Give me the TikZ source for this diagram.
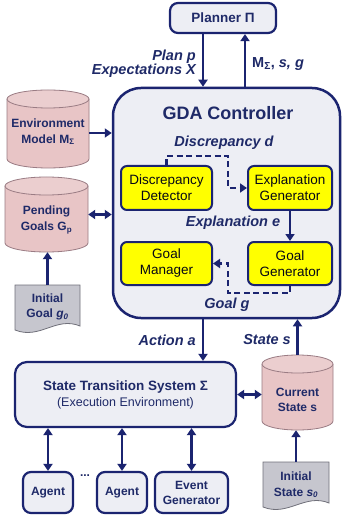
\documentclass[tikz,border=0pt]{standalone}
\usepackage{fontspec}
\setmainfont{Liberation Sans}
\usetikzlibrary{arrows.meta}
\definecolor{navy}{HTML}{1B2470}
\definecolor{txt}{HTML}{1F2A68}
\definecolor{boxfill}{HTML}{EDEEF4}
\definecolor{yel}{HTML}{FFFF00}
\definecolor{cylfill}{HTML}{E8C5C6}
\definecolor{cyldraw}{HTML}{9A7C84}
\definecolor{docfill}{HTML}{C6C6CE}
\definecolor{docdraw}{HTML}{70707A}
\tikzset{
 box/.style={draw=navy, line width=2.2pt, fill=boxfill, rounded corners=8pt, inner sep=0pt, align=center, text=txt},
 ybox/.style={draw=navy, line width=2pt, fill=yel, rounded corners=6pt, inner sep=0pt, align=center, text=black!80!navy, font=\fontsize{13.5}{16}\selectfont},
 lbl/.style={text=txt, font=\fontsize{14.5}{14.5}\selectfont\bfseries\itshape, inner sep=0pt},
 arr/.style={draw=navy, line width=2.6pt, -{Triangle[width=9pt,length=7pt]}},
 darr/.style={draw=navy, line width=2.6pt, {Triangle[width=9pt,length=7pt]}-{Triangle[width=9pt,length=7pt]}},
 dasharr/.style={arr, dash pattern=on 6pt off 3.5pt},
 area/.style={inner sep=0pt},
 cyl/.style={fill=cylfill, draw=cyldraw, line width=0.8pt},
 doc/.style={fill=docfill, draw=docdraw, line width=0.8pt},
 ctext/.style={text=txt, font=\fontsize{12}{15.5}\selectfont\bfseries, align=center, inner sep=0pt},
}
\begin{document}
\begin{tikzpicture}[x=1pt,y=-1pt]
\useasboundingbox[fill=white] (0,0) rectangle (342,518);

% GDA controller
\node[box, rounded corners=28pt, line width=2.5pt, minimum width=227pt, minimum height=230pt] (gda) at (226.5,203) {};
\node[text=txt, font=\fontsize{18}{20}\selectfont\bfseries, inner sep=0pt] (title) at (228,113) {GDA Controller};

% Planner
\node[box, minimum width=106pt, minimum height=30pt, font=\fontsize{13.5}{15}\selectfont\bfseries] (planner) at (223,18) {Planner Π};

% inner components
\node[ybox, minimum width=91pt, minimum height=44pt] (det) at (166.5,188) {Discrepancy\\Detector};
\node[ybox, minimum width=84pt, minimum height=44pt] (expl) at (290,188) {Explanation\\Generator};
\node[ybox, minimum width=91pt, minimum height=43pt] (mgr) at (166.5,263.5) {Goal\\Manager};
\node[ybox, minimum width=84pt, minimum height=43pt] (gen) at (290,263.5) {Goal\\Generator};

\node[lbl] (dlbl) at (224,143) {Discrepancy d};
\node[lbl] (elbl) at (233,223) {Explanation e};
\node[lbl] (glbl) at (227,305) {Goal g};

\draw[dasharr] (det.north) |- (228,156) |- (expl.west);
\draw[arr] (expl.south) -- (gen.north);
\draw[dasharr] (gen.south) |- (228,293) |- (mgr.east);

% planner arrows
\draw[arr] ([xshift=-20pt]planner.south) -- ([xshift=-20pt]planner.south |- gda.north);
\draw[arr] ([xshift=22pt]planner.south |- gda.north) -- ([xshift=22pt]planner.south);
\node[lbl, anchor=east, align=right] (planlbl) at (196,64) {Plan p\\Expectations X};
\node[lbl, anchor=west] (mlbl) at (252,64) {\upshape M\textsubscript{Σ}, \itshape s, g};

% Environment model cylinder
\fill[cylfill] (7,99) -- (7,159) arc[start angle=180, end angle=360, x radius=41pt, y radius=9pt] -- (89,99) arc[start angle=0, end angle=180, x radius=41pt, y radius=9pt] -- cycle;
\draw[cyl] (7,99) -- (7,159) arc[start angle=180, end angle=360, x radius=41pt, y radius=9pt] -- (89,99);
\draw[cyl, fill=cylfill!85!white] (48,99) ellipse [x radius=41pt, y radius=9pt];
\node[area, minimum width=82pt, minimum height=78pt] (env) at (48,129) {};
\node[ctext] (envt) at (48,132) {Environment\\Model M\textsubscript{Σ}};

% Pending goals cylinder
\draw[cyl] (5,186) -- (5,243) arc[start angle=180, end angle=360, x radius=41.5pt, y radius=9pt] -- (88,186);
\draw[cyl, fill=cylfill!85!white] (46.5,186) ellipse [x radius=41.5pt, y radius=9pt];
\node[area, minimum width=83pt, minimum height=75pt] (pend) at (46.5,214.5) {};
\node[ctext] (pendt) at (46.5,220) {Pending\\Goals G\textsubscript{p}};

% Current state cylinder
\draw[cyl] (262,364) -- (262,421) arc[start angle=180, end angle=360, x radius=35.5pt, y radius=9pt] -- (333,364);
\draw[cyl, fill=cylfill!85!white] (297.5,364) ellipse [x radius=35.5pt, y radius=9pt];
\node[area, minimum width=71pt, minimum height=75pt] (cur) at (297.5,392.5) {};
\node[ctext] (curt) at (297.5,400) {Current\\State s};

% documents
\draw[doc] (15,285) -- (80,285) -- (80,326) .. controls (56,316) and (40,340) .. (15,330) -- cycle;
\node[area, minimum width=65pt, minimum height=47pt] (ig) at (47.5,308.5) {};
\node[ctext] (igt) at (47.5,307) {Initial\\Goal {\itshape g\textsubscript{0}}};

\draw[doc] (263,462) -- (329,462) -- (329,503) .. controls (305,493) and (288,517) .. (263,507) -- cycle;
\node[area, minimum width=66pt, minimum height=46pt] (is) at (296,485) {};
\node[ctext] (ist) at (296,485) {Initial\\State {\itshape s\textsubscript{0}}};

% left arrows
\draw[arr] ([yshift=-4pt]env.east) -- ([yshift=-4pt]env.east -| gda.west);
\draw[darr] (pend.east) -- (pend.east -| gda.west);
\draw[arr] (ig.north) -- (ig.north |- pend.south);

% state transition system
\node[box, rounded corners=12pt, minimum width=221pt, minimum height=65pt, font=\fontsize{13}{16}\selectfont] (st) at (125.5,394.5) {{\fontsize{13.5}{16}\selectfont\bfseries State Transition System Σ}\\{\fontsize{12.5}{16}\selectfont (Execution Environment)}};

\draw[arr] ([xshift=-23.5pt]gda.south) -- ([xshift=-23.5pt]gda.south |- st.north);
\draw[arr] (cur.north) -- (cur.north |- gda.south);
\node[lbl, anchor=east] (actlbl) at (196,340) {Action a};
\node[lbl, anchor=east] (stlbl) at (291,340) {State s};

\draw[darr] (st.east) -- (st.east -| cur.west);
\draw[arr] (is.north) -- (is.north |- cur.south);

% agents
\node[box, minimum width=50pt, minimum height=41pt, font=\fontsize{12}{15}\selectfont\bfseries] (a1) at (48,492.5) {Agent};
\node[box, minimum width=50pt, minimum height=41pt, font=\fontsize{12}{15}\selectfont\bfseries] (a2) at (122,492.5) {Agent};
\node[box, minimum width=73pt, minimum height=41pt, font=\fontsize{12}{15}\selectfont\bfseries] (ev) at (191.5,492.5) {Event\\Generator};
\node[text=txt, font=\fontsize{12}{14}\selectfont\bfseries, inner sep=0pt] (dots) at (85,476) {...};

\draw[darr] (a1.north |- st.south) -- (a1.north);
\draw[darr] (a2.north |- st.south) -- (a2.north);
\draw[darr] (ev.north |- st.south) -- (ev.north);
\end{tikzpicture}
\end{document}
